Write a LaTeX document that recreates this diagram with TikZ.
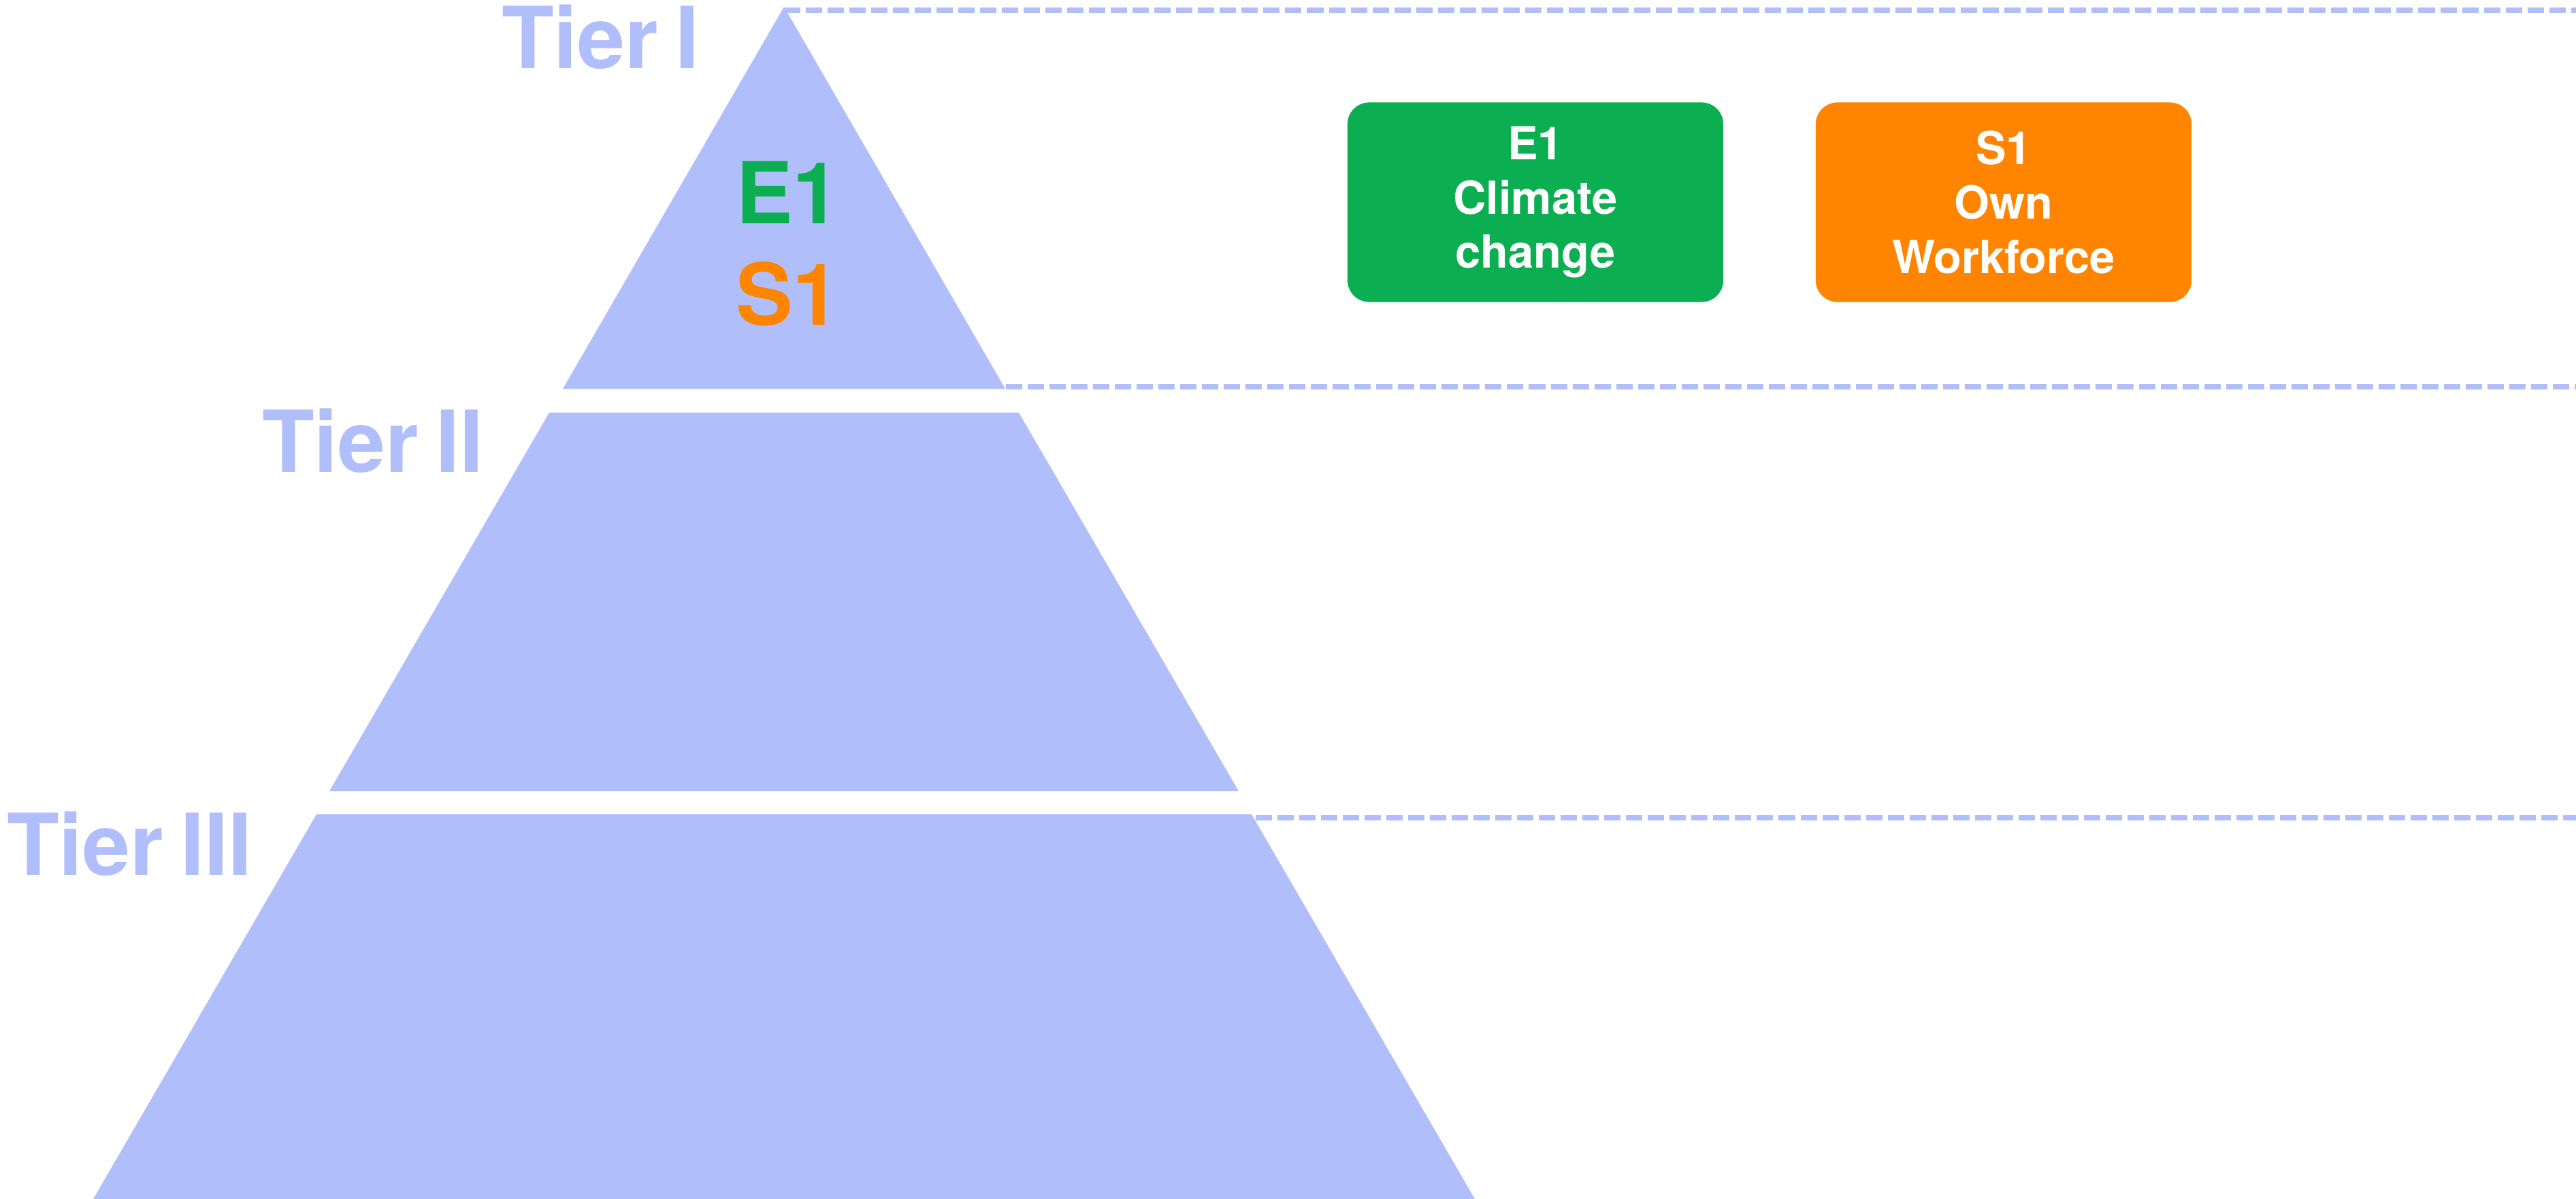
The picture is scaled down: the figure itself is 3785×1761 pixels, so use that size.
\documentclass[tikz,border=0pt]{standalone}
\usepackage{fontspec}
\setmainfont{TeX Gyre Heros}
\definecolor{pyr}{RGB}{176,191,252}
\definecolor{egreen}{RGB}{12,174,82}
\definecolor{sorange}{RGB}{255,132,0}
\tikzset{
  slice/.style={fill=pyr, draw=none},
  guide/.style={draw=pyr, line width=0.08cm, dash pattern=on 0.24cm off 0.08cm},
  tierlabel/.style={text=pyr, anchor=base east, inner sep=0pt, font=\fontsize{35.7pt}{42pt}\selectfont\bfseries},
  code/.style={anchor=base, inner sep=0pt, font=\fontsize{35.7pt}{42pt}\selectfont\bfseries},
  topicbox/.style={rounded corners=0.32cm, minimum width=5.52cm, minimum height=2.93cm, inner sep=0pt, text=white, align=center, font=\fontsize{19pt}{22.7pt}\selectfont\bfseries}
}
\begin{document}
\begin{tikzpicture}[x=0.01cm, y=-0.01cm]
\useasboundingbox (0,0) rectangle (3785,1761);
% pyramid slices
\coordinate (apex) at (1152,10);
\coordinate (t1l) at (827,571);
\coordinate (t1r) at (1477,571);
\coordinate (t2tl) at (807,606);
\coordinate (t2tr) at (1497,606);
\coordinate (t2bl) at (484,1162);
\coordinate (t2br) at (1820,1162);
\coordinate (t3tl) at (465,1196);
\coordinate (t3tr) at (1839,1196);
\coordinate (t3bl) at (137,1761);
\coordinate (t3br) at (2167,1761);
\fill[slice] (apex) -- (t1r) -- (t1l) -- cycle;
\fill[slice] (t2tl) -- (t2tr) -- (t2br) -- (t2bl) -- cycle;
\fill[slice] (t3tl) -- (t3tr) -- (t3br) -- (t3bl) -- cycle;
% dashed guides
\coordinate (g1s) at (1152,15);
\coordinate (g1e) at (3785,15);
\coordinate (g2s) at (1478,568);
\coordinate (g2e) at (3785,568);
\coordinate (g3s) at (1845,1201);
\coordinate (g3e) at (3785,1201);
\draw[guide] (g1s) -- (g1e);
\draw[guide] (g2s) -- (g2e);
\draw[guide] (g3s) -- (g3e);
% tier labels
\node[tierlabel] (tier1) at (1028,101) {Tier\hspace{0.2em}I};
\node[tierlabel] (tier2) at (711,693) {Tier\hspace{0.2em}II};
\node[tierlabel] (tier3) at (371,1285) {Tier\hspace{0.2em}III};
% codes in pyramid
\node[code, text=egreen] (e1) at (1158,329) {E1};
\node[code, text=sorange] (s1) at (1158,478) {S1};
% topic boxes
\node[topicbox, fill=egreen] (e1box) at (2256,297) {E1\\Climate\\change};
\node[topicbox, fill=sorange] (s1box) at (2944,297) {S1\\Own\\Workforce};
\end{tikzpicture}
\end{document}
